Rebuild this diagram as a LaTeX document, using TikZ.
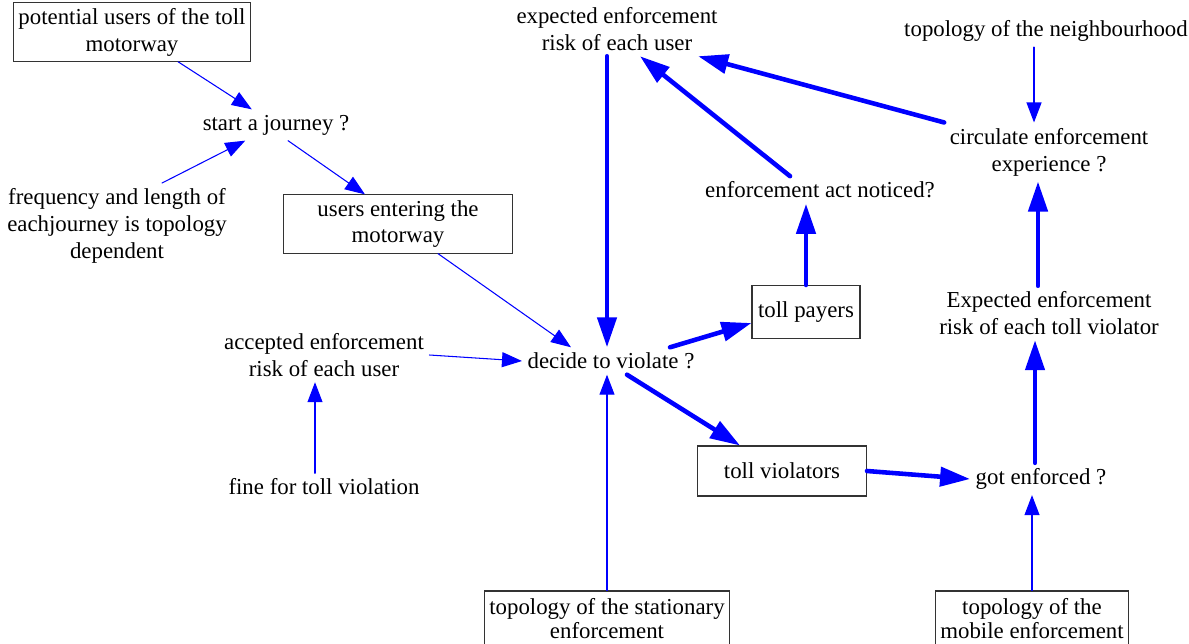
\documentclass[tikz,border=0pt]{standalone}
\usepackage{fontspec}
\setmainfont{Liberation Serif}
\usetikzlibrary{arrows.meta}

\begin{document}
\begin{tikzpicture}[x=0.02cm,y=-0.02cm,
  font=\fontsize{13}{15.3}\selectfont,
  txt/.style={align=center,inner sep=3pt},
  box/.style={draw=black!80,line width=0.6pt,align=center,fill=white,inner sep=3pt},
  lowbox/.style={box,font=\fontsize{13}{13.6}\selectfont,minimum height=1.12cm},
  arrow/.style={-{Triangle[length=4mm,width=3mm]},line width=0.6pt,draw=blue,line cap=round},
  bigarrow/.style={-{Triangle[length=6mm,width=3.8mm]},line width=2.6pt,draw=blue,line cap=round}
]
\useasboundingbox (0,0) rectangle (1189,643);

\node[box,minimum width=4.68cm,minimum height=1.08cm] (pot) at (132,32) {potential users of the toll\\motorway};
\node[txt] (start) at (276,125) {start a journey ?};
\node[txt] (freq) at (117,226) {frequency and length of\\eachjourney is topology\\dependent};
\node[box,minimum width=4.58cm,minimum height=1.04cm] (users) at (398,224) {users entering the\\motorway};
\node[txt] (accepted) at (324,355) {accepted enforcement\\risk of each user};
\node[txt] (fine) at (324,487) {fine for toll violation};
\node[txt] (decide) at (611,361) {decide to violate ?};
\node[txt] (expected) at (617,29) {expected enforcement\\risk of each user};
\node[txt] (noticed) at (820,190) {enforcement act noticed?};
\node[box,minimum width=2.16cm,minimum height=1.06cm] (payers) at (806,312) {toll payers};
\node[box,minimum width=3.38cm,minimum height=1.0cm] (violators) at (782,471) {toll violators};
\node[txt] (got) at (1041,479) {got enforced ?};
\node[txt] (expviol) at (1049,313) {Expected enforcement\\risk of each toll violator};
\node[txt] (circ) at (1049,152) {circulate enforcement\\experience ?};
\node[txt] (neigh) at (1046,31) {topology of the neighbourhood};
\node[lowbox,minimum width=4.54cm] (stat) at (607,619) {topology of the stationary\\enforcement};
\node[lowbox,minimum width=3.76cm] (mob) at (1032,619) {topology of the\\mobile enforcement};

% thin links
\draw[arrow] (pot) -- (start);
\draw[arrow] ([xshift=0.9cm]freq.north) -- (start);
\draw[arrow] ([xshift=0.24cm]start.south) -- ([xshift=-0.66cm]users.north);
\draw[arrow] ([xshift=0.8cm]users.south) -- ([xshift=-0.8cm]decide.north);
\draw[arrow] (accepted.east) -- (decide.west);
\draw[arrow] ([xshift=-0.18cm]fine.north) -- ([xshift=-0.18cm]accepted.south);
\draw[arrow] (stat.north) -- (stat.north |- decide.south);
\draw[arrow] ([xshift=-0.24cm]neigh.south) -- ([xshift=-0.24cm]neigh.south |- circ.north);
\draw[arrow] (mob.north) -- (mob.north |- got.south);

% heavy links
\draw[bigarrow] ([xshift=-0.2cm]expected.south) -- ([xshift=-0.2cm]expected.south |- decide.north);
\draw[bigarrow] ([xshift=-0.6cm]decide.north east) -- ([yshift=-0.22cm]payers.west);
\draw[bigarrow] ([xshift=0.32cm]decide.south) -- ([xshift=-0.84cm]violators.north);
\draw[bigarrow] (payers.north) -- (payers.north |- noticed.south);
\draw[bigarrow] ([xshift=-0.6cm]noticed.north) -- ([xshift=0.46cm]expected.south);
\draw[bigarrow] (circ.north west) -- ([xshift=-0.5cm]expected.south east);
\draw[bigarrow] (violators.east) -- (got.west);
\draw[bigarrow] ([xshift=-0.12cm]got.north) -- ([xshift=-0.12cm]got.north |- expviol.south);
\draw[bigarrow] ([xshift=-0.22cm]expviol.north) -- ([xshift=-0.22cm]expviol.north |- circ.south);
\end{tikzpicture}
\end{document}
